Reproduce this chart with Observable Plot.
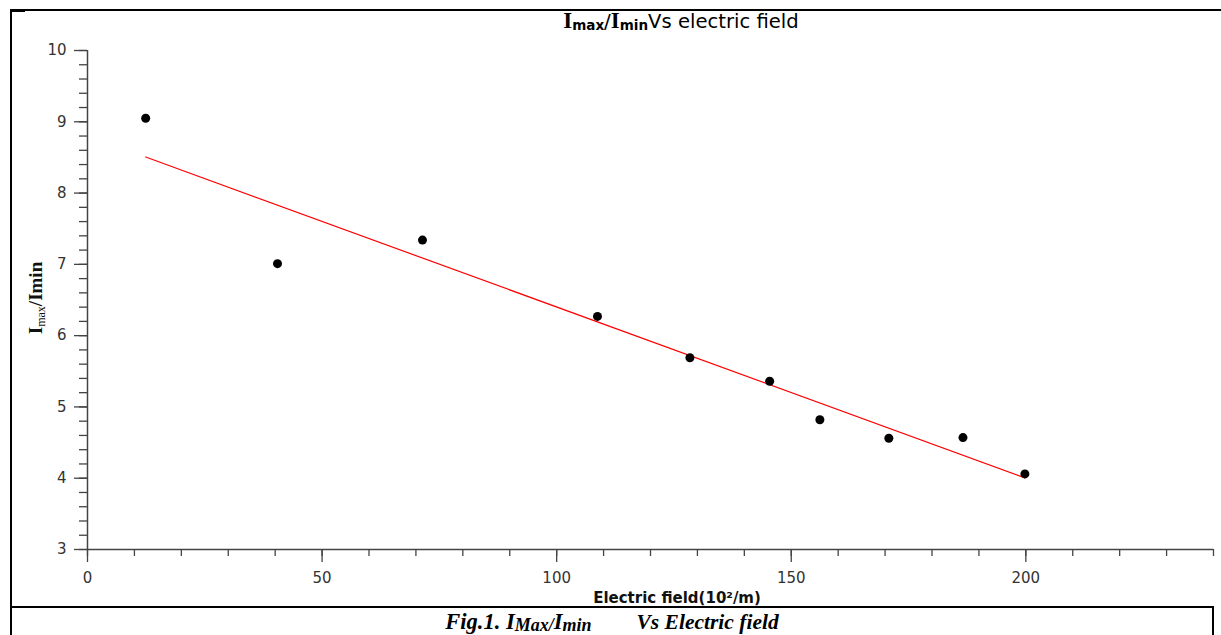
<!DOCTYPE html>
<html>
<head>
<meta charset="utf-8">
<script src="https://cdn.jsdelivr.net/npm/d3@7"></script>
<script src="https://cdn.jsdelivr.net/npm/@observablehq/plot@0.6"></script>
<style>
  html, body { margin: 0; padding: 0; background: #fff; }
  #wrap { position: relative; width: 1221px; height: 635px; overflow: hidden; background: #fff; }
  #chart { position: absolute; left: 0; top: 0; }
  .ln { position: absolute; background: #000; }
  #caption { position: absolute; left: 11px; top: 609px; width: 1202px; text-align: center;
    font-family: "Liberation Serif", serif; font-weight: bold; font-style: italic; font-size: 22.5px;
    line-height: 26px; white-space: pre; color: #000; }
  #caption .sub { position: relative; top: 0.1em; font-size: 18px; }
  #caption .rest { font-size: 21.5px; }
</style>
</head>
<body>
<div id="wrap">
  <div id="chart"></div>
  <div class="ln" style="left:11px; top:9px; width:1210px; height:2px;"></div>
  <div class="ln" style="left:11px; top:9px; width:14px; height:3px;"></div>
  <div class="ln" style="left:10px; top:9px; width:2px; height:626px;"></div>
  <div class="ln" style="left:11px; top:606px; width:1203px; height:2px;"></div>
  <div class="ln" style="left:1212px; top:607px; width:2px; height:28px;"></div>
  <div id="caption">Fig.1. I<span class="sub">Max/</span>I<span class="sub">min</span>        <span class="rest">Vs Electric field</span></div>
</div>
<script>
// Data
const electricField = [12.4, 40.5, 71.4, 108.7, 128.4, 145.4, 156.1, 170.8, 186.6, 199.8];
const ratio = [9.05, 7.01, 7.34, 6.27, 5.69, 5.36, 4.82, 4.56, 4.57, 4.06];

// Axis ticks
const xMajorTicks = [0, 50, 100, 150, 200];
const xMinorTicks = d3.range(0, 241, 10);
const yMajorTicks = [3, 4, 5, 6, 7, 8, 9, 10];
const yMinorTicks = d3.range(3, 10.001, 0.2).map(v => +v.toFixed(1));

const data = electricField.map((x, i) => ({x, y: ratio[i]}));

const axisColor = "#444";
const plot = Plot.plot({
  width: 1221,
  height: 607,
  marginLeft: 87,
  marginRight: 8,
  marginTop: 50,
  marginBottom: 58,
  x: {domain: [0, 240]},
  y: {domain: [3, 10]},
  style: {background: "transparent", fontFamily: "DejaVu Sans", fontSize: "15px", color: "#333"},
  marks: [
    Plot.axisX({ticks: xMinorTicks, tickSize: 7, tickFormat: () => "", stroke: axisColor, strokeWidth: 1.3, label: null}),
    Plot.axisX({ticks: xMajorTicks, tickSize: 13, tickPadding: 10, tickFormat: d => String(d), stroke: axisColor, strokeWidth: 1.3, fill: "#333", label: null}),
    Plot.axisY({ticks: yMinorTicks, tickSize: 8, tickFormat: () => "", stroke: axisColor, strokeWidth: 1.3, label: null}),
    Plot.axisY({ticks: yMajorTicks, tickSize: 13, tickPadding: 8, tickFormat: d => String(d), stroke: axisColor, strokeWidth: 1.3, fill: "#333", label: null}),
    Plot.ruleY([3], {stroke: axisColor, strokeWidth: 1.5}),
    Plot.ruleX([0], {stroke: axisColor, strokeWidth: 1.5}),
    Plot.linearRegressionY(data, {x: "x", y: "y", stroke: "red", strokeWidth: 1.2, ci: 0}),
    Plot.dot(data, {x: "x", y: "y", r: 4.5, fill: "black", stroke: "none"})
  ]
});
document.getElementById("chart").appendChild(plot);

const svg = d3.select(plot);
// Title
const t = svg.append("text").attr("x", 681).attr("y", 28).attr("text-anchor", "middle").attr("fill", "#000");
t.append("tspan").attr("font-family", "Liberation Serif").attr("font-weight", "bold").attr("font-size", 23).text("I");
t.append("tspan").attr("font-family", "DejaVu Sans").attr("font-weight", "bold").attr("font-size", 13.5).attr("dy", 2).text("max");
t.append("tspan").attr("font-family", "DejaVu Sans").attr("font-size", 20).attr("dy", -2).text("/");
t.append("tspan").attr("font-family", "Liberation Serif").attr("font-weight", "bold").attr("font-size", 23).text("I");
t.append("tspan").attr("font-family", "DejaVu Sans").attr("font-weight", "bold").attr("font-size", 13.5).attr("dy", 2).text("min");
t.append("tspan").attr("font-family", "DejaVu Sans").attr("font-size", 19.6).attr("dy", -2).text("Vs electric field");

// X label
svg.append("text").attr("x", 677).attr("y", 603).attr("text-anchor", "middle")
  .attr("font-family", "DejaVu Sans").attr("font-weight", "bold").attr("font-size", 15).attr("fill", "#111")
  .text("Electric field(10²/m)");

// Y label
const yl = svg.append("text").attr("transform", "translate(42,298) rotate(-90)").attr("text-anchor", "middle")
  .attr("font-family", "Liberation Serif").attr("font-weight", "bold").attr("fill", "#111");
yl.append("tspan").attr("font-size", 19).text("I");
yl.append("tspan").attr("font-size", 12).attr("font-weight", "normal").attr("dy", 3).text("max");
yl.append("tspan").attr("font-size", 19).attr("dy", -3).text("/Imin");
</script>
</body>
</html>
